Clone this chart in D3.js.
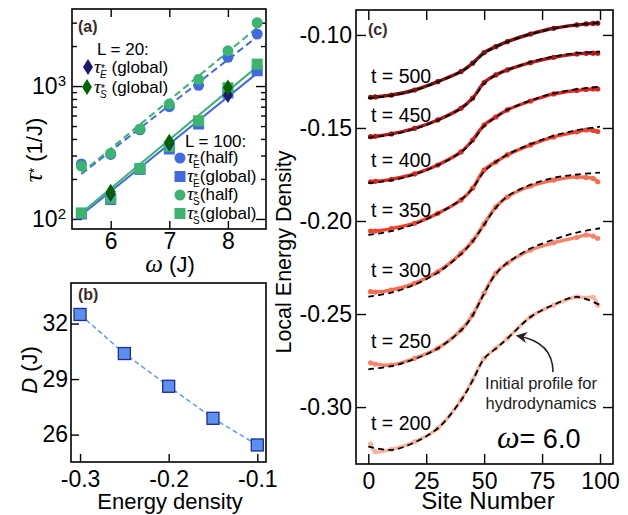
<!DOCTYPE html>
<html>
<head>
<meta charset="utf-8">
<script src="https://cdn.jsdelivr.net/npm/d3@7/dist/d3.min.js"></script>
<style>
  body { margin: 0; background: #fff; }
  svg { font-family: "Liberation Sans", Arial, Helvetica, sans-serif; }
  .frame { fill: none; stroke: #000; stroke-width: 1.6; }
  .axis path { display: none; }
  .axis line { stroke: #000; stroke-width: 1.4; }
  .axis text { font-size: 23px; fill: #000; font-family: "Liberation Sans", Arial, sans-serif; }
  .greek { font-family: "Liberation Serif", "DejaVu Serif", serif; font-style: italic; }
</style>
</head>
<body>
<div id="chart"></div>
<script>
// ---- (a) relaxation times vs omega ----
const omega = [5.5, 6, 6.5, 7, 7.5, 8, 8.5];
const tauEHalf100 = [259, 306, 468, 699, 1012, 1644, 2460];
const tauSHalf100 = [250, 312, 475, 732, 1123, 1842, 2994];
const tauEGlobal100 = [109, 140, 236, 336, 518, 886, 1303];
const tauSGlobal100 = [111, 143, 240, 351, 548, 970, 1463];
const omega20 = [6, 7, 8];
const tauEGlobal20 = [155, 370, 856];
const tauSGlobal20 = [160, 381, 977];
// exponential fits, end points
const fitOmega = [5.5, 8.5];
const fitEHalf = [218, 2350];
const fitSHalf = [222, 2750];
const fitEGlobal = [107, 1250];
const fitSGlobal = [111, 1400];

// ---- (b) diffusion constant ----
const energyDensity = [-0.3, -0.25, -0.2, -0.15, -0.1];
const diffusionD = [32.49, 30.38, 28.61, 26.88, 25.44];

// ---- (c) energy density profiles ----
const times = [200, 250, 300, 350, 400, 450, 500];
const sites = [1, 3, 10, 20, 30, 40, 45, 50, 55, 60, 70, 80, 90, 94, 97, 99];
const profiles = {
  200: [-0.3199, -0.3240, -0.3227, -0.3187, -0.3114, -0.2962, -0.2855, -0.2738, -0.2684, -0.2631, -0.2515, -0.2452, -0.2407, -0.2414, -0.2410, -0.2452],
  250: [-0.2762, -0.2769, -0.2774, -0.2738, -0.2684, -0.2586, -0.2505, -0.2387, -0.2281, -0.2227, -0.2156, -0.2117, -0.2088, -0.2075, -0.2081, -0.2093],
  300: [-0.2380, -0.2382, -0.2371, -0.2335, -0.2273, -0.2174, -0.2108, -0.2016, -0.1925, -0.1871, -0.1812, -0.1780, -0.1763, -0.1766, -0.1771, -0.1789],
  350: [-0.2054, -0.2054, -0.2041, -0.2012, -0.1959, -0.1887, -0.1824, -0.1726, -0.1683, -0.1645, -0.1591, -0.1548, -0.1521, -0.1511, -0.1513, -0.1519],
  400: [-0.1789, -0.1787, -0.1776, -0.1747, -0.1699, -0.1629, -0.1565, -0.1484, -0.1441, -0.1403, -0.1355, -0.1317, -0.1298, -0.1293, -0.1290, -0.1290],
  450: [-0.1547, -0.1545, -0.1532, -0.1502, -0.1457, -0.1394, -0.1340, -0.1256, -0.1215, -0.1188, -0.1149, -0.1120, -0.1102, -0.1099, -0.1098, -0.1098],
  500: [-0.1335, -0.1333, -0.1323, -0.1296, -0.1251, -0.1197, -0.1152, -0.1095, -0.1063, -0.1036, -0.0995, -0.0964, -0.0946, -0.0941, -0.0938, -0.0937]
};
const fitSites = [0, 10, 20, 30, 40, 45, 50, 55, 60, 70, 80, 90, 100];
const hydroFits = {
  200: [-0.3212, -0.3230, -0.3190, -0.3114, -0.2965, -0.2858, -0.2740, -0.2686, -0.2632, -0.2516, -0.2450, -0.2408, -0.2452],
  250: [-0.2797, -0.2780, -0.2742, -0.2685, -0.2588, -0.2508, -0.2390, -0.2285, -0.2225, -0.2148, -0.2100, -0.2062, -0.2039],
  300: [-0.2407, -0.2385, -0.2342, -0.2277, -0.2178, -0.2110, -0.2020, -0.1930, -0.1868, -0.1805, -0.1768, -0.1750, -0.1740],
  350: [-0.2075, -0.2055, -0.2017, -0.1960, -0.1885, -0.1825, -0.1735, -0.1683, -0.1643, -0.1587, -0.1542, -0.1512, -0.1493],
  400: [-0.1797, -0.1781, -0.1750, -0.1700, -0.1630, -0.1570, -0.1490, -0.1443, -0.1403, -0.1352, -0.1314, -0.1292, -0.1278],
  450: [-0.1552, -0.1536, -0.1505, -0.1459, -0.1395, -0.1345, -0.1262, -0.1217, -0.1188, -0.1146, -0.1116, -0.1098, -0.1090],
  500: [-0.1340, -0.1326, -0.1298, -0.1253, -0.1197, -0.1157, -0.1100, -0.1064, -0.1037, -0.0996, -0.0966, -0.0946, -0.0934]
};
const timeColors = ["#f8b39c", "#f6866b", "#f76c50", "#ef432e", "#d92720", "#b01a1a", "#861414"];

const blue = "#4169e1", green = "#3cb371", navy = "#1b1a6e", darkGreen = "#006400";

const svg = d3.select("#chart").append("svg")
  .attr("width", 628)
  .attr("height", 515);

// diamond marker path
const diamond = "M0,-8L5,0L0,8L-5,0Z";

// ================= panel (a) =================
const a = svg.append("g").attr("transform", "translate(72,9)");
const aW = 194, aH = 220;
const xA = d3.scaleLinear().domain([5.34, 8.65]).range([0, aW]);
const yA = d3.scaleLog().domain([84, 3800]).range([aH, 0]);
const minorA = [200, 300, 400, 500, 600, 700, 800, 900, 2000, 3000];

a.append("g").attr("class", "axis")
  .call(d3.axisLeft(yA).tickValues([100, 1000]).tickSize(-10).tickPadding(6))
  .call(g => g.selectAll(".tick text").each(function(d) {
    const t = d3.select(this).text("10");
    t.append("tspan").attr("dy", "-0.5em").attr("font-size", "15px").text(Math.round(Math.log10(d)));
  }));
a.append("g").attr("class", "axis")
  .call(d3.axisLeft(yA).tickValues(minorA).tickSize(-5).tickFormat(""));
a.append("g").attr("class", "axis").attr("transform", `translate(${aW},0)`)
  .call(d3.axisRight(yA).tickValues([100, 1000]).tickSize(-10).tickFormat(""));
a.append("g").attr("class", "axis").attr("transform", `translate(${aW},0)`)
  .call(d3.axisRight(yA).tickValues(minorA).tickSize(-5).tickFormat(""));
a.append("g").attr("class", "axis").attr("transform", `translate(0,${aH})`)
  .call(d3.axisBottom(xA).tickValues([6, 7, 8]).tickSize(-8).tickPadding(4).tickFormat(d3.format("d")));
a.append("g").attr("class", "axis")
  .call(d3.axisTop(xA).tickValues([6, 7, 8]).tickSize(-8).tickFormat(""));

const lineA = d3.line().x(d => xA(d[0])).y(d => yA(d[1]));
const fitLines = [
  { v: fitEHalf, c: blue, dash: "7,4" },
  { v: fitSHalf, c: green, dash: "7,4" },
  { v: fitEGlobal, c: blue, dash: null },
  { v: fitSGlobal, c: green, dash: null }
];
fitLines.forEach(f => {
  a.append("path")
    .attr("d", lineA(d3.zip(fitOmega, f.v)))
    .attr("fill", "none")
    .attr("stroke", f.c)
    .attr("stroke-width", 2)
    .attr("stroke-dasharray", f.dash);
});

function circles(vals, color) {
  a.append("g").selectAll("circle").data(d3.zip(omega, vals)).join("circle")
    .attr("cx", d => xA(d[0])).attr("cy", d => yA(d[1])).attr("r", 5.5)
    .attr("fill", color);
}
function squares(vals, color) {
  a.append("g").selectAll("rect").data(d3.zip(omega, vals)).join("rect")
    .attr("x", d => xA(d[0]) - 5.5).attr("y", d => yA(d[1]) - 5.5)
    .attr("width", 11).attr("height", 11)
    .attr("fill", color);
}
function diamonds(vals, color) {
  a.append("g").selectAll("path").data(d3.zip(omega20, vals)).join("path")
    .attr("transform", d => `translate(${xA(d[0])},${yA(d[1])})`)
    .attr("d", diamond)
    .attr("fill", color);
}
circles(tauEHalf100, blue);
circles(tauSHalf100, green);
squares(tauEGlobal100, blue);
squares(tauSGlobal100, green);
diamonds(tauEGlobal20, navy);
diamonds(tauSGlobal20, darkGreen);

a.append("rect").attr("class", "frame").attr("width", aW).attr("height", aH);

// legend entries: tau with star superscript and E/S subscript
function tauText(x, y, sub, rest, italicSub) {
  const t = svg.append("text").attr("x", x).attr("y", y).attr("font-size", 17);
  t.append("tspan").attr("class", "greek").attr("font-size", 19).text("τ");
  t.append("tspan").attr("dy", -1).attr("font-size", 11).text("*");
  t.append("tspan").attr("dx", -5).attr("dy", 6).attr("font-size", 10)
    .attr("font-style", italicSub ? "italic" : "normal").text(sub);
  t.append("tspan").attr("dy", -5).text(rest);
}
svg.append("text").attr("x", 78).attr("y", 32).attr("font-size", 16)
  .attr("font-weight", "bold").attr("fill", "#3b2a2a").text("(a)");
svg.append("text").attr("x", 97).attr("y", 55).attr("font-size", 17).text("L = 20:");
svg.append("path").attr("transform", "translate(88,67)").attr("d", diamond).attr("fill", navy);
tauText(94, 73, "E", " (global)", true);
svg.append("path").attr("transform", "translate(87,87)").attr("d", diamond).attr("fill", darkGreen);
tauText(94, 93, "S", " (global)", true);

svg.append("text").attr("x", 185).attr("y", 147).attr("font-size", 17).text("L = 100:");
const legend100 = [
  { shape: "circle", c: blue, sub: "E", rest: "(half)" },
  { shape: "square", c: blue, sub: "E", rest: "(global)" },
  { shape: "circle", c: green, sub: "S", rest: "(half)" },
  { shape: "square", c: green, sub: "S", rest: "(global)" }
];
legend100.forEach((d, i) => {
  const cy = 158 + i * 18.5;
  if (d.shape === "circle") {
    svg.append("circle").attr("cx", 180).attr("cy", cy).attr("r", 5.5).attr("fill", d.c);
  } else {
    svg.append("rect").attr("x", 174.5).attr("y", cy - 5.5).attr("width", 11).attr("height", 11).attr("fill", d.c);
  }
  tauText(187, cy + 5, d.sub, d.rest, false);
});

// axis titles (a)
const yTitleA = svg.append("text")
  .attr("transform", "translate(42,150) rotate(-90)")
  .attr("text-anchor", "middle").attr("font-size", 22);
yTitleA.append("tspan").attr("class", "greek").attr("font-size", 25).text("τ");
yTitleA.append("tspan").attr("dy", -3).attr("font-size", 14).text("*");
yTitleA.append("tspan").attr("dy", 3).text(" (1/J)");

const xTitleA = svg.append("text").attr("x", 170).attr("y", 272)
  .attr("text-anchor", "middle").attr("font-size", 22);
xTitleA.append("tspan").attr("class", "greek").attr("font-size", 25).text("ω");
xTitleA.append("tspan").text(" (J)");

// ================= panel (b) =================
const b = svg.append("g").attr("transform", "translate(71,283)");
const bW = 195, bH = 179;
const xB = d3.scaleLinear().domain([-0.3102, -0.0902]).range([0, bW]);
const yB = d3.scaleLinear().domain([24.52, 34.19]).range([bH, 0]);

b.append("g").attr("class", "axis")
  .call(d3.axisLeft(yB).tickValues([26, 29, 32]).tickSize(-8).tickPadding(3));
b.append("g").attr("class", "axis").attr("transform", `translate(0,${bH})`)
  .call(d3.axisBottom(xB).tickValues([-0.3, -0.2, -0.1]).tickSize(-8).tickPadding(9)
    .tickFormat(d => d.toFixed(1)));

b.append("path")
  .attr("d", d3.line().x(d => xB(d[0])).y(d => yB(d[1]))(d3.zip(energyDensity, diffusionD)))
  .attr("fill", "none").attr("stroke", "#5f9cf0").attr("stroke-width", 1.5)
  .attr("stroke-dasharray", "5,3");
b.append("g").selectAll("rect").data(d3.zip(energyDensity, diffusionD)).join("rect")
  .attr("x", d => xB(d[0]) - 6).attr("y", d => yB(d[1]) - 6)
  .attr("width", 12).attr("height", 12)
  .attr("fill", "#5b8ff0").attr("stroke", "#1d2f94").attr("stroke-width", 1.3);
b.append("rect").attr("class", "frame").attr("width", bW).attr("height", bH);

svg.append("text").attr("x", 78).attr("y", 300).attr("font-size", 16)
  .attr("font-weight", "bold").attr("fill", "#3b2a2a").text("(b)");
const yTitleB = svg.append("text")
  .attr("transform", "translate(37,370) rotate(-90)")
  .attr("text-anchor", "middle").attr("font-size", 22);
yTitleB.append("tspan").attr("font-style", "italic").text("D");
yTitleB.append("tspan").text(" (J)");
svg.append("text").attr("x", 170).attr("y", 509).attr("text-anchor", "middle")
  .attr("font-size", 22).text("Energy density");

// ================= panel (c) =================
const c = svg.append("g").attr("transform", "translate(356,10)");
const cW = 257, cH = 454;
const xC = d3.scaleLinear().domain([-5.3, 105.6]).range([0, cW]);
const yC = d3.scaleLinear().domain([-0.3306, -0.0866]).range([cH, 0]);
const yTicksC = [-0.30, -0.25, -0.20, -0.15, -0.10];
const xTicksC = [0, 25, 50, 75, 100];

c.append("g").attr("class", "axis")
  .call(d3.axisLeft(yC).tickValues(yTicksC).tickSize(-10).tickPadding(4)
    .tickFormat(d => d.toFixed(2)))
  .call(g => g.selectAll("text").attr("font-size", "24px"));
c.append("g").attr("class", "axis").attr("transform", `translate(${cW},0)`)
  .call(d3.axisRight(yC).tickValues(yTicksC).tickSize(-10).tickFormat(""));
c.append("g").attr("class", "axis").attr("transform", `translate(0,${cH})`)
  .call(d3.axisBottom(xC).tickValues(xTicksC).tickSize(-10).tickPadding(9));
c.append("g").attr("class", "axis")
  .call(d3.axisTop(xC).tickValues(xTicksC).tickSize(-10).tickFormat(""));

const lineC = d3.line().x(d => xC(d[0])).y(d => yC(d[1])).curve(d3.curveCatmullRom);
times.forEach((t, i) => {
  const pts = d3.zip(sites, profiles[t]);
  c.append("path").attr("d", lineC(pts))
    .attr("fill", "none").attr("stroke", timeColors[i]).attr("stroke-width", 3.4);
  c.append("g").selectAll("circle").data(pts).join("circle")
    .attr("cx", d => xC(d[0])).attr("cy", d => yC(d[1])).attr("r", 2.6)
    .attr("fill", timeColors[i]);
  c.append("path").attr("d", lineC(d3.zip(fitSites, hydroFits[t])))
    .attr("fill", "none").attr("stroke", "#000").attr("stroke-width", 1.8)
    .attr("stroke-dasharray", "6,4");
  c.append("text").attr("x", 15).attr("y", yC(profiles[t][0]) - 14.5)
    .attr("font-size", 19.5).text(`t = ${t}`);
});
c.append("rect").attr("class", "frame").attr("width", cW).attr("height", cH);

svg.append("text").attr("x", 368).attr("y", 35).attr("font-size", 16)
  .attr("font-weight", "bold").attr("fill", "#3b2a2a").text("(c)");
svg.append("text")
  .attr("transform", "translate(291,252) rotate(-90)")
  .attr("text-anchor", "middle").attr("font-size", 21.5).text("Local Energy Density");
svg.append("text").attr("x", 488).attr("y", 509).attr("text-anchor", "middle")
  .attr("font-size", 24).text("Site Number");

// annotation
svg.append("defs").append("marker")
  .attr("id", "arrowhead").attr("viewBox", "0 0 10 10")
  .attr("refX", 8).attr("refY", 5)
  .attr("markerWidth", 7).attr("markerHeight", 7)
  .attr("orient", "auto")
  .append("path").attr("d", "M0,0L10,5L0,10L3,5Z").attr("fill", "#2b1f1f");
svg.append("path").attr("d", "M553,372Q553,342 518,336")
  .attr("fill", "none").attr("stroke", "#2b1f1f").attr("stroke-width", 1.6)
  .attr("marker-end", "url(#arrowhead)");
svg.append("text").attr("x", 541).attr("y", 389).attr("text-anchor", "middle")
  .attr("font-size", 16.5).attr("fill", "#222").text("Initial profile for");
svg.append("text").attr("x", 541).attr("y", 409).attr("text-anchor", "middle")
  .attr("font-size", 16.5).attr("fill", "#222").text("hydrodynamics");

const omegaLabel = svg.append("text").attr("x", 497).attr("y", 448).attr("font-size", 27);
omegaLabel.append("tspan").attr("class", "greek").attr("font-size", 32).text("ω");
omegaLabel.append("tspan").text("= 6.0");
</script>
</body>
</html>
